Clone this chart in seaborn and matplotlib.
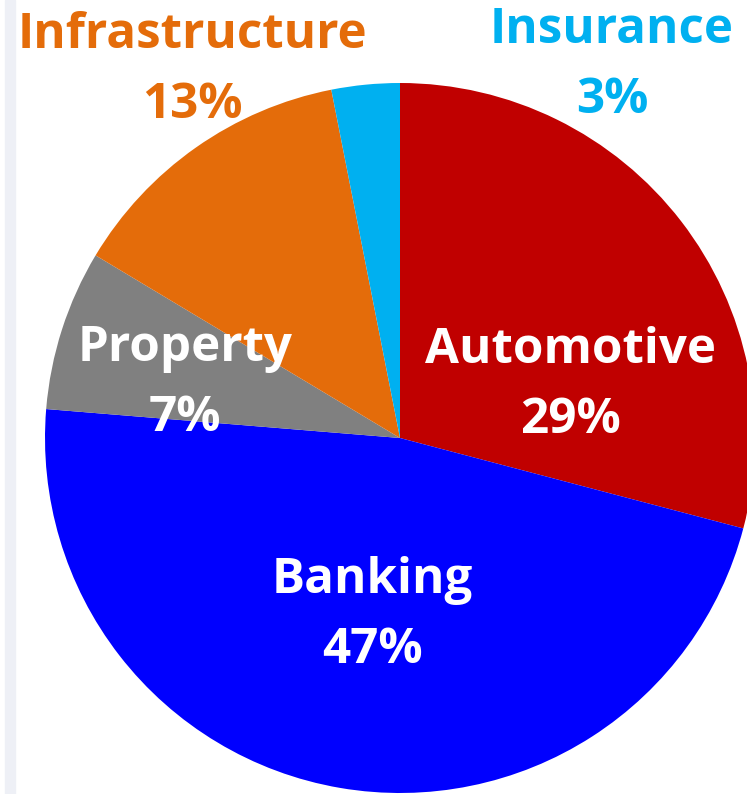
import matplotlib
matplotlib.use("Agg")
import matplotlib.pyplot as plt
import seaborn as sns

# data (clockwise from 12 o'clock)
sectors = ["Automotive", "Banking", "Property", "Infrastructure", "Insurance"]
shares = [29.1, 47.2, 7.3, 13.3, 3.1]
colors = ["#C00000", "#0000FF", "#808080", "#E46C0A", "#00B0F0"]
label_colors = ["white", "white", "white", "#E46C0A", "#00B0F0"]

# label centres in pie units (layout only)
label_pos = [(0.479, 0.148), (-0.079, -0.500), (-0.606, 0.154),
             (-0.586, 1.035), (0.597, 1.050)]

sns.set_theme(style="white")
plt.rcParams['font.family'] = ['Open Sans', 'DejaVu Sans']

fig = plt.figure(figsize=(7.47, 7.94), dpi=100)
# faint strip at left edge, as in the source screenshot
fig.patches.append(plt.Rectangle((5 / 747, 0), 10 / 747, 1, transform=fig.transFigure,
                                 color="#EEF0F6", zorder=0))

ax = fig.add_axes([45 / 747, 1 / 794, 710 / 747, 710 / 794])
ax.pie(shares, colors=colors, startangle=90, counterclock=False, radius=1,
       wedgeprops=dict(linewidth=0))
ax.set_xlim(-1, 1)
ax.set_ylim(-1, 1)
ax.set_aspect("equal")
ax.axis("off")

for name, val, (x, y), c in zip(sectors, shares, label_pos, label_colors):
    ax.text(x, y, f"{name}\n{round(val)}%", ha="center", va="center",
            fontsize=35.5, fontweight="bold", color=c, linespacing=1.58)

fig.savefig("out.png", dpi=100)
